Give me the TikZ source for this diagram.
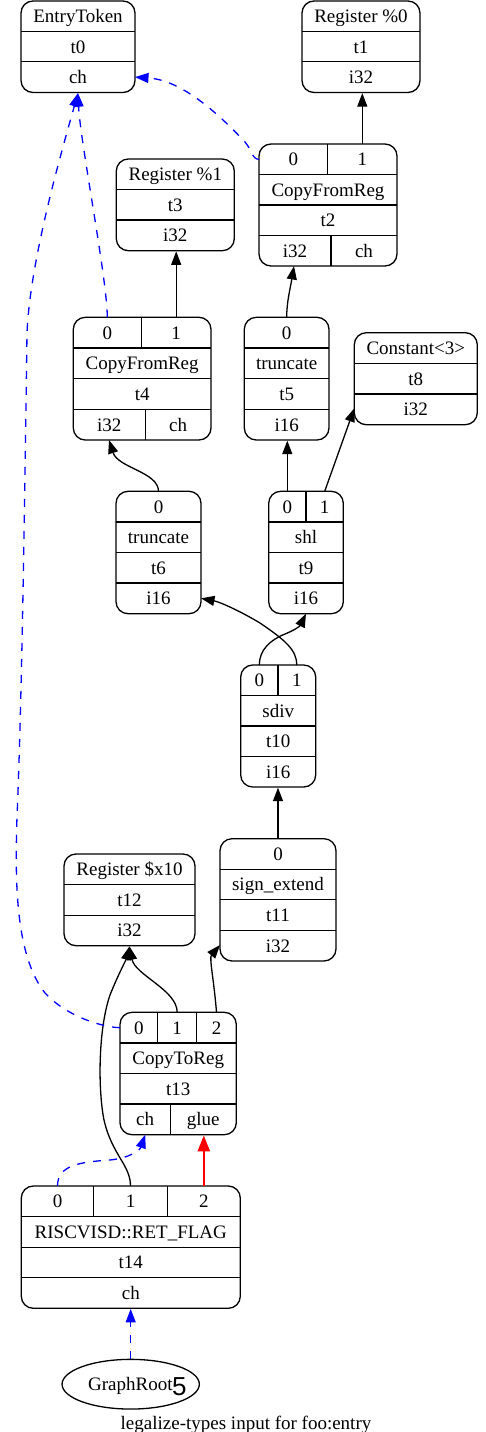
\documentclass[tikz,border=0pt]{standalone}
\usepackage{fontspec}
\setmainfont{Liberation Serif}
\newfontfamily\digitfont{Liberation Sans}
\usetikzlibrary{arrows.meta,fit,shapes.geometric}

\tikzset{
  recbox/.style={draw, line width=1.3pt, rounded corners=12pt, inner sep=0pt},
  sepline/.style={line width=1.3pt},
  lbl/.style={anchor=base, yshift=-6.4pt, inner sep=0pt, font=\fontsize{19}{22}\selectfont},
  dataedge/.style={line width=1.3pt, -{Triangle[length=13.5pt,width=10pt]}},
  chainedge/.style={dataedge, blue, dash pattern=on 8pt off 8pt},
  glueedge/.style={line width=2.4pt, red, -{Triangle[length=16pt,width=12pt]}},
}

% record frame: name, left, top, right, bottom
\newcommand\recframe[5]{\node[recbox, fit={(#2,#3) (#4,#5)}] (#1) {};}
% horizontal divider: y, left, right
\newcommand\recrow[3]{\draw[sepline] (#2,#1) -- (#3,#1);}
% vertical divider: x, top, bottom
\newcommand\reccol[3]{\draw[sepline] (#1,#2) -- (#1,#3);}
% cell text: name, x, y (row centre), text
\newcommand\reclabel[4]{\node[lbl] (#1) at (#2,#3) {#4};}

\begin{document}
\begin{tikzpicture}[x=1pt, y=-1pt]
\useasboundingbox (0,0) rectangle (485,1432);

% ---- t0: EntryToken
\recframe{E0}{21}{1}{135}{92.5}
\recrow{31.7}{21}{135} \recrow{61.7}{21}{135}
\reclabel{E0-op}{78}{16.3}{EntryToken}
\reclabel{E0-id}{78}{46.7}{t0}
\reclabel{E0-ty}{78}{77.1}{ch}
\coordinate (E0-che) at (135,77.1);

% ---- t1: Register %0
\recframe{R0}{302}{1}{420}{92.5}
\recrow{31.7}{302}{420} \recrow{61.7}{302}{420}
\reclabel{R0-op}{361}{16.3}{Register \%0}
\reclabel{R0-id}{361}{46.7}{t1}
\reclabel{R0-ty}{361}{77.1}{i32}

% ---- t2: CopyFromReg
\recframe{t2}{259}{144}{397}{266}
\recrow{174.5}{259}{397} \recrow{205}{259}{397} \recrow{235.5}{259}{397}
\reccol{327.7}{144}{174.5} \reccol{331}{235.5}{266}
\reclabel{t2-a}{293.3}{159.3}{0}
\reclabel{t2-b}{362.3}{159.3}{1}
\reclabel{t2-op}{328}{189.8}{CopyFromReg}
\reclabel{t2-id}{328}{220.3}{t2}
\reclabel{t2-ty0}{295}{250.8}{i32}
\reclabel{t2-ty1}{364}{250.8}{ch}
\coordinate (t2-p1) at (362.3,144);
\coordinate (t2-w) at (259,159.3);
\coordinate (t2-i32s) at (294,266);

% ---- t3: Register %1
\recframe{R1}{116.3}{159}{234.3}{250.7}
\recrow{189.5}{116.3}{234.3} \recrow{220}{116.3}{234.3}
\reclabel{R1-op}{175.3}{174.3}{Register \%1}
\reclabel{R1-id}{175.3}{204.8}{t3}
\reclabel{R1-ty}{175.3}{235.3}{i32}

% ---- t4: CopyFromReg
\recframe{t4}{73.3}{317.3}{211}{440}
\recrow{348}{73.3}{211} \recrow{378.7}{73.3}{211} \recrow{409.3}{73.3}{211}
\reccol{141.3}{317.3}{348} \reccol{145.3}{409.3}{440}
\reclabel{t4-a}{107.3}{332.7}{0}
\reclabel{t4-b}{176.2}{332.7}{1}
\reclabel{t4-op}{142.2}{363.3}{CopyFromReg}
\reclabel{t4-id}{142.2}{394}{t4}
\reclabel{t4-ty0}{109.3}{424.7}{i32}
\reclabel{t4-ty1}{178.2}{424.7}{ch}
\coordinate (t4-p0) at (107.3,317.3);
\coordinate (t4-p1) at (176.2,317.3);
\coordinate (t4-i32s) at (109,440);

% ---- t5: truncate
\recframe{t5}{244.3}{317.3}{329}{440}
\recrow{348}{244.3}{329} \recrow{378.7}{244.3}{329} \recrow{409.3}{244.3}{329}
\reclabel{t5-a}{286.7}{332.7}{0}
\reclabel{t5-op}{286.7}{363.3}{truncate}
\reclabel{t5-id}{286.7}{394}{t5}
\reclabel{t5-ty}{286.7}{424.7}{i16}
\coordinate (t5-p0) at (286.7,317.3);

% ---- t8: Constant<3>
\recframe{C3}{354.3}{332.7}{477.3}{424.7}
\recrow{363.3}{354.3}{477.3} \recrow{394}{354.3}{477.3}
\reclabel{C3-op}{415.8}{348}{Constant<3>}
\reclabel{C3-id}{415.8}{378.7}{t8}
\reclabel{C3-ty}{415.8}{409.3}{i32}
\coordinate (C3-w) at (354.3,408.3);

% ---- t6: truncate
\recframe{t6}{116}{491.3}{201}{613.7}
\recrow{522}{116}{201} \recrow{552.7}{116}{201} \recrow{583}{116}{201}
\reclabel{t6-a}{158.5}{506.7}{0}
\reclabel{t6-op}{158.5}{537.3}{truncate}
\reclabel{t6-id}{158.5}{567.8}{t6}
\reclabel{t6-ty}{158.5}{598.3}{i16}
\coordinate (t6-p0) at (158.5,491.3);
\coordinate (t6-i16e) at (201,598.3);

% ---- t9: shl
\recframe{t9}{268.7}{491.3}{343.3}{613.7}
\recrow{522}{268.7}{343.3} \recrow{552.7}{268.7}{343.3} \recrow{583}{268.7}{343.3}
\reccol{306}{491.3}{522}
\reclabel{t9-a}{287.3}{506.7}{0}
\reclabel{t9-b}{324.7}{506.7}{1}
\reclabel{t9-op}{306}{537.3}{shl}
\reclabel{t9-id}{306}{567.8}{t9}
\reclabel{t9-ty}{306}{598.3}{i16}
\coordinate (t9-p0) at (287.3,491.3);
\coordinate (t9-p1) at (324.7,491.3);
\coordinate (t9-i16s) at (306,613.7);

% ---- t10: sdiv
\recframe{t10}{240.7}{665}{315.7}{787}
\recrow{695.5}{240.7}{315.7} \recrow{726}{240.7}{315.7} \recrow{756.7}{240.7}{315.7}
\reccol{278}{665}{695.5}
\reclabel{t10-a}{259.3}{680.2}{0}
\reclabel{t10-b}{296.8}{680.2}{1}
\reclabel{t10-op}{278.2}{710.7}{sdiv}
\reclabel{t10-id}{278.2}{741.3}{t10}
\reclabel{t10-ty}{278.2}{771.8}{i16}
\coordinate (t10-p0) at (259.3,665);
\coordinate (t10-p1) at (296.8,665);

% ---- t12: Register $x10
\recframe{X10}{64}{854}{195}{945.7}
\recrow{884.7}{64}{195} \recrow{915.3}{64}{195}
\reclabel{X10-op}{129.5}{869.3}{Register \$x10}
\reclabel{X10-id}{129.5}{900}{t12}
\reclabel{X10-ty}{129.5}{930.5}{i32}

% ---- t11: sign_extend
\recframe{t11}{220}{838.7}{336}{961}
\recrow{869.3}{220}{336} \recrow{899.8}{220}{336} \recrow{930.5}{220}{336}
\reclabel{t11-a}{278}{854}{0}
\reclabel{t11-op}{278}{884.5}{sign\_extend}
\reclabel{t11-id}{278}{915.1}{t11}
\reclabel{t11-ty}{278}{945.7}{i32}
\coordinate (t11-p0) at (278,838.7);
\coordinate (t11-w) at (220,945);

% ---- t13: CopyToReg
\recframe{t13}{120}{1012.3}{236.3}{1134.7}
\recrow{1043}{120}{236.3} \recrow{1073.5}{120}{236.3} \recrow{1104}{120}{236.3}
\reccol{157.7}{1012.3}{1043} \reccol{196.7}{1012.3}{1043} \reccol{170.3}{1104}{1134.7}
\reclabel{t13-a}{138.8}{1027.7}{0}
\reclabel{t13-b}{177.2}{1027.7}{1}
\reclabel{t13-c}{216.5}{1027.7}{2}
\reclabel{t13-op}{178.2}{1058.2}{CopyToReg}
\reclabel{t13-id}{178.2}{1088.8}{t13}
\reclabel{t13-ty0}{145.2}{1119.3}{ch}
\reclabel{t13-ty1}{203.3}{1119.3}{glue}
\coordinate (t13-w) at (120,1027.7);
\coordinate (t13-p1) at (177.2,1012.3);
\coordinate (t13-p2) at (216.5,1012.3);
\coordinate (t13-chs) at (145.2,1134.7);

% ---- t14: RISCVISD::RET_FLAG
\recframe{t14}{21.3}{1186}{240.3}{1308.3}
\recrow{1216.7}{21.3}{240.3} \recrow{1247.3}{21.3}{240.3} \recrow{1277.7}{21.3}{240.3}
\reccol{93.7}{1186}{1216.7} \reccol{167.3}{1186}{1216.7}
\reclabel{t14-a}{57.5}{1201.3}{0}
\reclabel{t14-b}{130.5}{1201.3}{1}
\reclabel{t14-c}{203.8}{1201.3}{2}
\reclabel{t14-op}{130.8}{1232}{RISCVISD::RET\_FLAG}
\reclabel{t14-id}{130.8}{1262.5}{t14}
\reclabel{t14-ty}{130.8}{1293}{ch}
\coordinate (t14-p0) at (57.5,1186);
\coordinate (t14-p1) at (130.5,1186);
\coordinate (t14-p2) at (203.8,1186);

% ---- graph root
\node[ellipse, draw, line width=1.3pt, minimum width=137.3pt, minimum height=49.7pt, inner sep=0pt] (GR) at (130.7,1384.2) {};
\reclabel{GR-name}{130.4}{1384.2}{GraphRoot}
\node[anchor=base, inner sep=0pt, font=\digitfont\fontsize{26}{28}\selectfont] (GR-num) at (179.3,1395.5) {5};

% ---- caption
\node[anchor=base, inner sep=0pt, font=\fontsize{19}{22}\selectfont] (caption) at (246,1429.5) {legalize-types input for foo:entry};

% ---- value edges
\draw[dataedge] (t2-p1) -- (t2-p1 |- R0.south);
\draw[dataedge] (t4-p1) -- (t4-p1 |- R1.south);
\draw[dataedge] (t5-p0) .. controls (286.7,302) and (290,290) .. (t2-i32s);
\draw[dataedge] (t6-p0) .. controls (158.5,472) and (118,468) .. (t4-i32s);
\draw[dataedge] (t9-p0) -- (t9-p0 |- t5.south);
\draw[dataedge] (t9-p1) -- (C3-w);
\draw[dataedge] (t10-p0) .. controls (259.3,650) and (270,640) .. (285,634)
                         .. controls (295,630) and (300,626) .. (t9-i16s);
\draw[dataedge] (t10-p1) .. controls (296.8,650) and (285,640) .. (260,623)
                         .. controls (240,611) and (220,602) .. (t6-i16e);
\draw[dataedge] (t11-p0) -- (t11-p0 |- t10.south);
\draw[dataedge] (t13-p1) .. controls (177.2,990) and (135,975) .. (X10.south);
\draw[dataedge] (t13-p2) .. controls (214,980) and (209,958) .. (t11-w);
\draw[dataedge] (t14-p1) .. controls (130.5,1165) and (112,1155) .. (104,1120)
                         .. controls (98,1090) and (98,1030) .. (110,995)
                         .. controls (118,975) and (126,960) .. (X10.south);

% ---- chain edges
\draw[chainedge] (t2-w) .. controls (252,159.3) and (252,150) .. (245,142)
                        .. controls (215,110) and (180,80) .. (E0-che);
\draw[chainedge] (t4-p0) .. controls (107.3,280) and (80,140) .. (E0.south);
\draw[chainedge] (t13-w) .. controls (100,1027) and (65,1015) .. (45,993)
                         .. controls (15,955) and (15,880) .. (17,817)
                         .. controls (22,700) and (25,480) .. (27,333)
                         .. controls (30,260) and (62,150) .. (E0.south);
\draw[chainedge] (t14-p0) .. controls (57.5,1165) and (80,1162) .. (110,1160)
                          .. controls (130,1158) and (140,1150) .. (t13-chs);
\draw[chainedge] (GR.north) -- (GR.north |- t14.south);

% ---- glue edge
\draw[glueedge] (t14-p2) -- (t14-p2 |- t13.south);
\end{tikzpicture}
\end{document}
